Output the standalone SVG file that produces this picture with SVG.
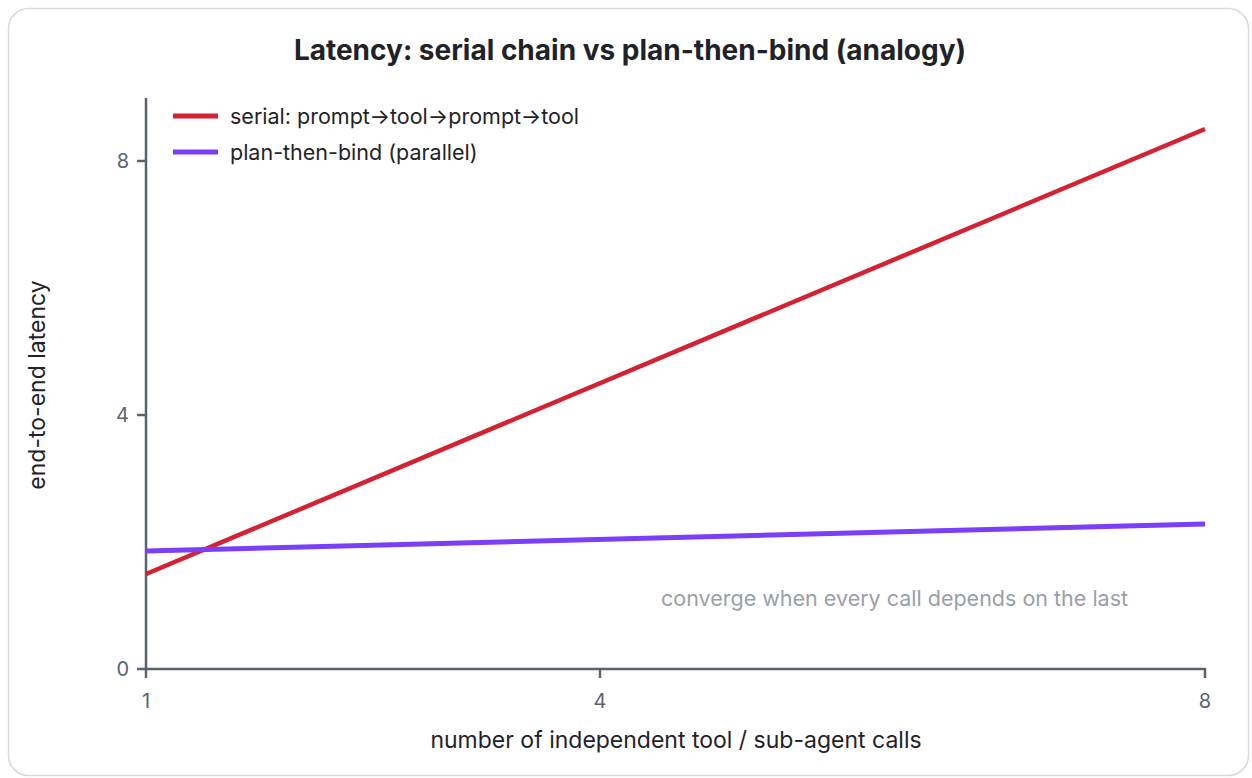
<svg xmlns="http://www.w3.org/2000/svg" width="1252" height="778" viewBox="0 0 1252 778">
<style>
text{font-family:Inter,"Liberation Sans",sans-serif}
.axis{stroke:#5c636d;stroke-width:2.5;fill:none}
.tick{font-size:20px;fill:#5c636d}
.leg{font-size:21.5px;fill:#1f2328}
.lbl{font-size:23px;fill:#1f2328}
</style>
<rect x="8.5" y="8.5" width="1240" height="767" rx="20" fill="#fff" stroke="#d5d9e0" stroke-width="1.5"/>
<text x="630" y="60" text-anchor="middle" font-size="28" font-weight="bold" fill="#1f2328">Latency: serial chain vs plan-then-bind (analogy)</text>
<g id="axes">
<path class="axis" d="M146 98V669H1205V678M146 669V678M600 669V678M137 669H146M137 415H146M137 161H146"/>
<text class="tick" x="129" y="168" text-anchor="end">8</text>
<text class="tick" x="129" y="422" text-anchor="end">4</text>
<text class="tick" x="129" y="676" text-anchor="end">0</text>
<text class="tick" x="146" y="708" text-anchor="middle">1</text>
<text class="tick" x="600" y="708" text-anchor="middle">4</text>
<text class="tick" x="1205" y="708" text-anchor="middle">8</text>
<text class="lbl" x="676" y="748" text-anchor="middle">number of independent tool / sub-agent calls</text>
<text class="lbl" transform="translate(45 385) rotate(-90)" text-anchor="middle">end-to-end latency</text>
</g>
<g id="series">
<line id="serial" x1="146" y1="574" x2="1205" y2="129" stroke="#d42232" stroke-width="4.5"/>
<line id="parallel" x1="146" y1="551" x2="1205" y2="524" stroke="#7b3ff7" stroke-width="5"/>
</g>
<g id="legend">
<line x1="173" y1="116" x2="218" y2="116" stroke="#d42232" stroke-width="5"/>
<text class="leg" x="230" y="124">serial: prompt→tool→prompt→tool</text>
<line x1="173" y1="152" x2="218" y2="152" stroke="#7b3ff7" stroke-width="5"/>
<text class="leg" x="230" y="160">plan-then-bind (parallel)</text>
</g>
<text id="note" x="661" y="606" font-size="21.5" fill="#9aa0a9">converge when every call depends on the last</text>
</svg>
